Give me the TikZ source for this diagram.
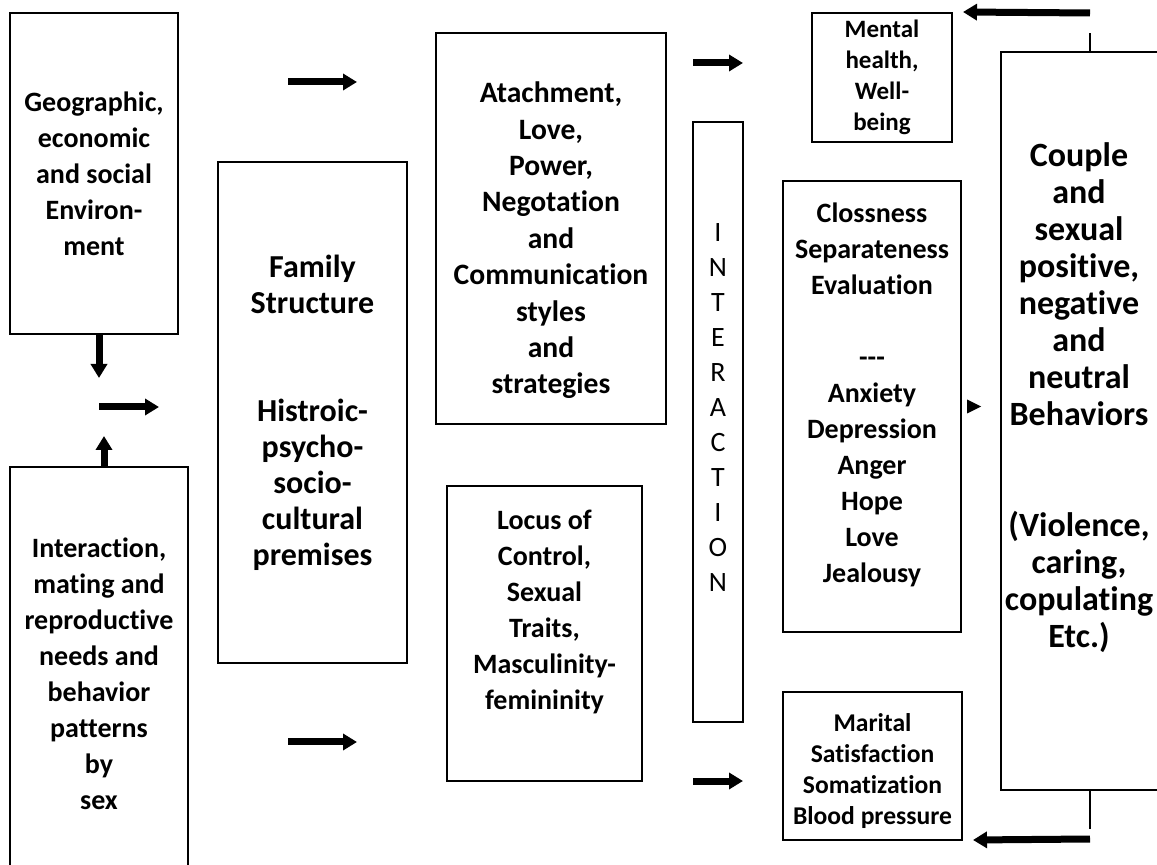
\documentclass[tikz,border=0pt]{standalone}
\usepackage{fontspec}
\setmainfont{Carlito}[Ligatures={NoCommon}]
\usepackage{tikz}
\usetikzlibrary{arrows.meta,calc}
\tikzstyle{mybox} = [
    draw=black,
    line width=1pt,
    rectangle,
    inner sep=0pt,
    align=center,
    font=\bfseries\fontsize{14}{18}\selectfont
    ]
\tikzstyle{smallbox} = [
    mybox,
    font=\bfseries\fontsize{12.5}{15.5}\selectfont
    ]
\tikzstyle{boxtext} = [
    align=center,
    inner sep=0pt,
    font=\bfseries\fontsize{14}{18}\selectfont
    ]
\tikzstyle{fatarrow} = [
    line width=3.5pt,
    -{Triangle[width=8pt,length=7pt]}
    ]

\begin{document}
\begin{tikzpicture}[x=0.5pt,y=-0.5pt]
\useasboundingbox (0,0) rectangle (1157,865);
\clip (0,0) rectangle (1157,865);
% left column
\node[mybox, minimum width=84pt, minimum height=160.5pt] (geo) at (94,173.5)
    {Geographic,\\economic\\and social\\Environ-\\ment};
\node[mybox, minimum width=89pt, minimum height=206.5pt] (needs) at (99,673.5)
    {Interaction,\\mating and\\reproductive\\needs and\\behavior\\patterns\\by\\sex};
\node[mybox, minimum width=94.5pt, minimum height=250.5pt,
      font=\bfseries\fontsize{16}{18}\selectfont] (family) at (312.5,412.5)
    {Family\\Structure\\[36pt]Histroic-\\psycho-\\socio-\\cultural\\premises};
% middle column
\node[mybox, minimum width=115pt, minimum height=195.5pt] (attach) at (551,228.5) {};
\node[boxtext, font=\bfseries\fontsize{14.8}{18.2}\selectfont] (attachtxt) at ([yshift=-6pt]attach.center)
    {Atachment,\\Love,\\Power,\\Negotation\\and\\Communication\\styles\\and\\strategies};
\node[mybox, minimum width=97.5pt, minimum height=147.5pt] (locus) at (544.5,633.5) {};
\node[boxtext] (locustxt) at ([yshift=11pt]locus.center)
    {Locus of\\Control,\\Sexual\\Traits,\\Masculinity-\\femininity};
\node[mybox, minimum width=25pt, minimum height=300pt] (inter) at (718,422) {};
\node[boxtext, font=\fontsize{14}{17.5}\selectfont] (intertxt) at ([yshift=7pt]inter.center)
    {I\\N\\T\\E\\R\\A\\C\\T\\I\\O\\N};
% right column
\node[smallbox, minimum width=70pt, minimum height=64.5pt] (mental) at (882,77.5)
    {Mental\\health,\\Well-\\being};
\node[mybox, minimum width=89pt, minimum height=225.5pt] (clos) at (872,406.5) {};
\node[boxtext] (clostxt) at ([yshift=6pt]clos.center)
    {Clossness\\Separateness\\Evaluation\\[18pt]-{}-{}-\\Anxiety\\Depression\\Anger\\Hope\\Love\\Jealousy};
\node[smallbox, minimum width=89.5pt, minimum height=74pt] (marital) at (872.5,766) {};
\node[boxtext, font=\bfseries\fontsize{12.8}{15.5}\selectfont] (maritaltxt) at ([yshift=-2.5pt]marital.center)
    {Marital\\Satisfaction\\Somatization\\Blood pressure};
\node[mybox, minimum width=84.5pt, minimum height=369pt] (couple) at (1085.5,421) {};
\node[boxtext, font=\bfseries\fontsize{17}{18.5}\selectfont] (coupletxt) at (1079,398)
    {Couple\\and\\sexual\\positive,\\negative\\and\\neutral\\Behaviors\\[37pt](Violence,\\caring,\\copulating\\Etc.)};
% arrows
\draw[fatarrow] ([xshift=2.5pt]geo.south) -- ++(0,43);
\draw[fatarrow] ([xshift=2.5pt]needs.north) -- ++(0,-30);
\coordinate (mid) at (99,407);
\draw[fatarrow] (mid) -- ++(60,0);
\coordinate (fa) at (288,82);
\coordinate (fb) at (288,742);
\draw[fatarrow] (fa) -- ++(69,0);
\draw[fatarrow] (fb) -- ++(69,0);
\coordinate (ia) at (693,63);
\coordinate (ib) at (693,781);
\draw[fatarrow] (ia) -- ++(50,0);
\draw[fatarrow] (ib) -- ++(50,0);
\fill ($(clos.east)+(5,-7)$) -- ++(14,7) -- ++(-14,7) -- cycle;
% feedback from couple
\coordinate (ctop) at (1090,33);
\coordinate (cbot) at (1090,829);
\draw[line width=1pt] (couple.north -| ctop) -- (ctop);
\draw[line width=1pt] (couple.south -| cbot) -- (cbot);
\coordinate (topa) at (1090,13);
\coordinate (bota) at (1090,839);
\draw[fatarrow] (topa) -- ($(mental.north east)+(10,0)$);
\draw[fatarrow] (bota) -- ($(marital.south east)+(10,-1)$);
\end{tikzpicture}
\end{document}
